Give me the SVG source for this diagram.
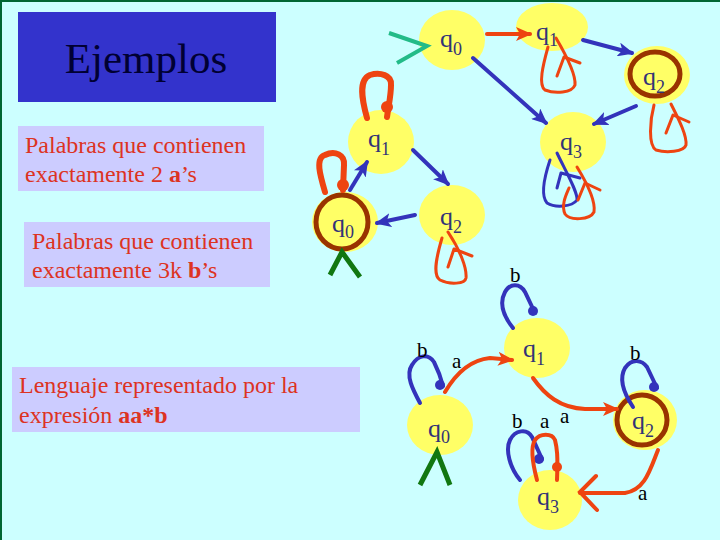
<svg xmlns="http://www.w3.org/2000/svg" width="720" height="540" viewBox="0 0 720 540">
<style>
.bg{fill:#CCFFFF}
.st{fill:#FFFF66}
.ring{fill:none;stroke:#993300;stroke-width:5}
.lbl{font-family:"Liberation Serif",serif;font-size:26px;fill:#333377}
.sub{font-size:18px}
.sym{font-family:"Liberation Serif",serif;font-size:21px;fill:#000000}
.box{fill:#CCCCFF}
.txt{font-family:"Liberation Serif",serif;font-size:24px;fill:#DD3322}
.blue{fill:none;stroke:#3333BB;stroke-width:4;stroke-linecap:round}
.red{fill:none;stroke:#EE4411;stroke-width:4;stroke-linecap:round}
.redt{fill:none;stroke:#EE4411;stroke-width:3;stroke-linecap:round;stroke-linejoin:round}
.bluet{fill:none;stroke:#3333BB;stroke-width:3;stroke-linecap:round;stroke-linejoin:round}
.dotb{fill:#3333BB}
.dotr{fill:#EE4411}
</style>
<defs>
<marker id="ab" markerUnits="userSpaceOnUse" markerWidth="16" markerHeight="14" refX="14" refY="7" orient="auto"><path d="M0,0 L16,7 L0,14 L4,7 Z" fill="#3333BB"/></marker>
<marker id="ar" markerUnits="userSpaceOnUse" markerWidth="16" markerHeight="14" refX="14" refY="7" orient="auto"><path d="M0,0 L16,7 L0,14 L4,7 Z" fill="#EE4411"/></marker>
</defs>
<rect class="bg" x="0" y="0" width="720" height="540"/>
<line x1="0" y1="1" x2="720" y2="1" stroke="#006633" stroke-width="2"/>
<line x1="1" y1="0" x2="1" y2="540" stroke="#006633" stroke-width="2"/>

<g id="title"><rect x="18" y="12" width="258" height="90" fill="#3333CC"/><text x="146" y="73" text-anchor="middle" font-family="Liberation Serif,serif" font-size="43" fill="#000033">Ejemplos</text></g>
<g id="box1"><rect class="box" x="18" y="126" width="246" height="65"/><text class="txt" x="25" y="153">Palabras que contienen</text><text class="txt" x="25" y="182">exactamente 2 <tspan font-weight="bold">a</tspan>’s</text></g>
<g id="box2"><rect class="box" x="24" y="222" width="246" height="65"/><text class="txt" x="32" y="249">Palabras que contienen</text><text class="txt" x="32" y="278">exactamente 3k <tspan font-weight="bold">b</tspan>’s</text></g>
<g id="box3"><rect class="box" x="12" y="367" width="348" height="65"/><text class="txt" x="19" y="393">Lenguaje representado por la</text><text class="txt" x="19" y="423">expresión <tspan font-weight="bold">aa*b</tspan></text></g>

<!-- automaton A: exactly 2 a's -->
<g id="A_q0"><ellipse class="st" cx="452" cy="40" rx="33" ry="30"/><text class="lbl" x="440" y="47">q<tspan class="sub" dy="8">0</tspan></text></g>
<g id="A_q1"><ellipse class="st" cx="552" cy="27" rx="36" ry="24"/><text class="lbl" x="536" y="40">q<tspan class="sub" dy="6">1</tspan></text></g>
<g id="A_q2"><ellipse class="st" cx="657" cy="75" rx="33" ry="29"/><ellipse class="ring" cx="655" cy="74" rx="25" ry="22"/><text class="lbl" x="643" y="85">q<tspan class="sub" dy="8">2</tspan></text></g>
<g id="A_q3"><ellipse class="st" cx="573" cy="142" rx="33" ry="30"/><text class="lbl" x="560" y="150">q<tspan class="sub" dy="8">3</tspan></text></g>

<!-- automaton B: 3k b's -->
<g id="B_q1"><ellipse class="st" cx="381" cy="142" rx="33" ry="32"/><text class="lbl" x="368" y="147">q<tspan class="sub" dy="8">1</tspan></text></g>
<g id="B_q0"><ellipse class="st" cx="345" cy="222" rx="33" ry="30"/><ellipse class="ring" cx="342" cy="222" rx="26" ry="27"/><text class="lbl" x="332" y="232">q<tspan class="sub" dy="6">0</tspan></text></g>
<g id="B_q2"><ellipse class="st" cx="452" cy="215" rx="33" ry="30"/><text class="lbl" x="440" y="225">q<tspan class="sub" dy="8">2</tspan></text></g>

<!-- automaton C: aa*b -->
<g id="C_q0"><ellipse class="st" cx="440" cy="425" rx="33" ry="30"/><text class="lbl" x="428" y="437">q<tspan class="sub" dy="6">0</tspan></text></g>
<g id="C_q1"><ellipse class="st" cx="537" cy="348" rx="33" ry="30"/><text class="lbl" x="523" y="357">q<tspan class="sub" dy="8">1</tspan></text></g>
<g id="C_q2"><ellipse class="st" cx="645" cy="420" rx="32" ry="30"/><ellipse class="ring" cx="642" cy="420" rx="25" ry="25"/><text class="lbl" x="632" y="429">q<tspan class="sub" dy="8">2</tspan></text></g>
<g id="C_q3"><ellipse class="st" cx="550" cy="500" rx="32" ry="30"/><text class="lbl" x="537" y="505">q<tspan class="sub" dy="8">3</tspan></text></g>

<g id="connectors">
<!-- A -->
<polyline points="389,33 427,46 397,63" fill="none" stroke="#22BB88" stroke-width="4"/>
<line class="red" x1="487" y1="34" x2="530" y2="34" marker-end="url(#ar)"/>
<line class="blue" x1="583" y1="40" x2="632" y2="53" marker-end="url(#ab)"/>
<line class="blue" x1="473" y1="58" x2="546" y2="123" marker-end="url(#ab)"/>
<line class="blue" x1="636" y1="106" x2="594" y2="124" marker-end="url(#ab)"/>
<path class="redt" d="M548,47 C543,65 538,85 545,90 C555,94 572,93 575,85 C576,75 566,55 556,38"/>
<polyline class="redt" points="557,76 564,57 580,63"/>
<path class="redt" d="M654,105 C650,120 648,145 656,150 C666,153 684,152 686,145 C687,135 678,118 671,104"/>
<polyline class="redt" points="666,133 673,115 689,122"/>
<!-- B -->
<path d="M367,118 C362,100 358,80 370,75 C380,72 392,75 391,85 C391,95 389,103 387,117" fill="none" stroke="#EE4411" stroke-width="6" stroke-linecap="round"/>
<circle class="dotr" cx="387" cy="107" r="6"/>
<path d="M325,192 C320,175 315,158 325,155 C335,150 345,155 344,165 L343,190" fill="none" stroke="#EE4411" stroke-width="6" stroke-linecap="round"/>
<circle class="dotr" cx="343" cy="185" r="6"/>
<line class="blue" x1="350" y1="190" x2="367" y2="162" marker-end="url(#ab)"/>
<line class="blue" x1="413" y1="150" x2="448" y2="184" marker-end="url(#ab)"/>
<line class="blue" x1="415" y1="215" x2="377" y2="223" marker-end="url(#ab)"/>
<polyline points="330,275 342,252 360,277" fill="none" stroke="#117711" stroke-width="5"/>
<path class="redt" d="M442,238 C437,255 432,275 440,280 C450,285 465,284 466,278 C467,268 460,250 448,232"/>
<polyline class="redt" points="448,267 454,249 472,256"/>
<path class="bluet" d="M550,160 C545,175 540,195 547,203 C555,208 572,207 577,200 C578,192 565,170 557,153"/>
<polyline class="bluet" points="557,188 561,173 580,178"/>
<path class="redt" d="M577,167 C585,180 596,200 594,212 C590,220 570,221 565,214 C561,205 566,195 569,188"/>
<polyline class="redt" points="578,200 585,183 600,190"/>
<!-- C -->
<polyline points="420,485 437,452 450,485" fill="none" stroke="#117711" stroke-width="5"/>
<path class="blue" d="M420,403 C413,390 405,375 412,365 C418,355 428,353 434,362 C438,370 441,378 443,386"/>
<circle class="dotb" cx="440" cy="385" r="5"/>
<path class="red" d="M445,392 C455,375 470,360 490,358 L512,360" marker-end="url(#ar)"/>
<path class="blue" d="M513,328 C505,318 498,305 505,292 C510,283 520,283 525,292 L535,313"/>
<circle class="dotb" cx="533" cy="311" r="5"/>
<path class="red" d="M533,378 C545,395 560,408 585,409 L617,409" marker-end="url(#ar)"/>
<path class="blue" d="M633,407 C625,395 618,380 625,368 C632,358 642,360 647,367 L657,388"/>
<circle class="dotb" cx="654" cy="387" r="5"/>
<path class="red" d="M658,450 C650,470 645,490 625,493 L580,493"/>
<polyline class="red" points="596,476 580,492 597,510"/>
<path class="blue" d="M520,480 C510,468 505,450 510,440 C515,430 527,428 532,437 L542,459"/>
<circle class="dotb" cx="539" cy="459" r="5"/>
<path class="red" d="M537,480 C533,465 530,448 535,440 C540,433 552,433 555,440 C557,448 558,455 557,480"/>
<circle class="dotr" cx="557" cy="467" r="5"/>
<text class="sym" x="417" y="357">b</text>
<text class="sym" x="452" y="368">a</text>
<text class="sym" x="510" y="282">b</text>
<text class="sym" x="512" y="428">b</text>
<text class="sym" x="540" y="428">a</text>
<text class="sym" x="560" y="423">a</text>
<text class="sym" x="630" y="360">b</text>
<text class="sym" x="638" y="500">a</text>
</g>
</svg>
